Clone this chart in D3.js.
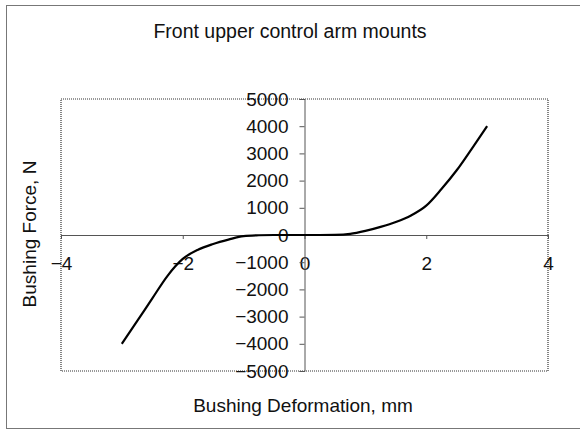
<!DOCTYPE html>
<html>
<head>
<meta charset="utf-8">
<script src="https://cdn.jsdelivr.net/npm/d3@7"></script>
<style>
  body { margin: 0; background: #fff; }
  text { font-family: Arial, "Liberation Sans", sans-serif; fill: #111; }
</style>
</head>
<body>
<div id="root"></div>
<script>
// Deformation (mm) and bushing force (N)
const deformation = [-3, -2.75, -2.5, -2.25, -2, -1.75, -1.5, -1.25, -1, -0.75, -0.5, -0.25, 0,
  0.25, 0.5, 0.75, 1, 1.25, 1.5, 1.75, 2, 2.25, 2.5, 2.75, 3]
const force = [-4000, -3170, -2330, -1500, -880, -540, -330, -170, -40, -10, 0, 0, 0,
  0, 5, 40, 150, 300, 480, 720, 1080, 1690, 2380, 3180, 4000]
const xTicks = [-4, -2, 0, 2, 4]
const yTicks = [-5000, -4000, -3000, -2000, -1000, 0, 1000, 2000, 3000, 4000, 5000]

const W = 580, H = 430
const plot = { left: 61, right: 548, top: 99, bottom: 371 }

const svg = d3.select("#root").append("svg")
  .attr("width", W)
  .attr("height", H)

// outer chart frame
svg.append("rect")
  .attr("x", 6.5).attr("y", 5.5)
  .attr("width", 590).attr("height", 423)
  .attr("fill", "none")
  .attr("stroke", "#777")
  .attr("stroke-width", 1)

const x = d3.scaleLinear().domain([-4, 4]).range([plot.left, plot.right])
const y = d3.scaleLinear().domain([-5000, 5000]).range([plot.bottom, plot.top])

// plot area border (dotted)
svg.append("rect")
  .attr("x", plot.left).attr("y", plot.top)
  .attr("width", plot.right - plot.left).attr("height", plot.bottom - plot.top)
  .attr("fill", "none")
  .attr("stroke", "#333")
  .attr("stroke-width", 1.2)
  .attr("stroke-dasharray", "1,1")

// x axis crosses at y = 0
const xAxis = svg.append("g")
  .attr("transform", `translate(0,${y(0)})`)
  .call(d3.axisBottom(x).tickValues(xTicks).tickFormat(d3.format("d")).tickSize(4).tickPadding(18))
xAxis.select(".domain").attr("stroke", "#555")
xAxis.selectAll(".tick line").attr("stroke", "#555")
xAxis.selectAll("text").style("font-size", "19px").attr("fill", "#111")

// y axis crosses at x = 0
const yAxis = svg.append("g")
  .attr("transform", `translate(${x(0)},0)`)
  .call(d3.axisLeft(y).tickValues(yTicks).tickFormat(d3.format("d")).tickSize(5).tickPadding(11))
yAxis.select(".domain").attr("stroke", "#555")
yAxis.selectAll(".tick line").attr("stroke", "#555")
yAxis.selectAll("text").style("font-size", "19px").attr("fill", "#111")

// curve
const line = d3.line()
  .x((d, i) => x(deformation[i]))
  .y(d => y(d))
  .curve(d3.curveMonotoneX)

svg.append("path")
  .datum(force)
  .attr("fill", "none")
  .attr("stroke", "#000")
  .attr("stroke-width", 2.2)
  .attr("d", line)

// titles
svg.append("text")
  .attr("x", 290).attr("y", 38)
  .attr("text-anchor", "middle")
  .style("font-size", "19.5px")
  .text("Front upper control arm mounts")

svg.append("text")
  .attr("x", 303).attr("y", 412)
  .attr("text-anchor", "middle")
  .style("font-size", "19px")
  .text("Bushing Deformation, mm")

svg.append("text")
  .attr("transform", "translate(36,234) rotate(-90)")
  .attr("text-anchor", "middle")
  .style("font-size", "19px")
  .text("Bushing Force, N")
</script>
</body>
</html>
